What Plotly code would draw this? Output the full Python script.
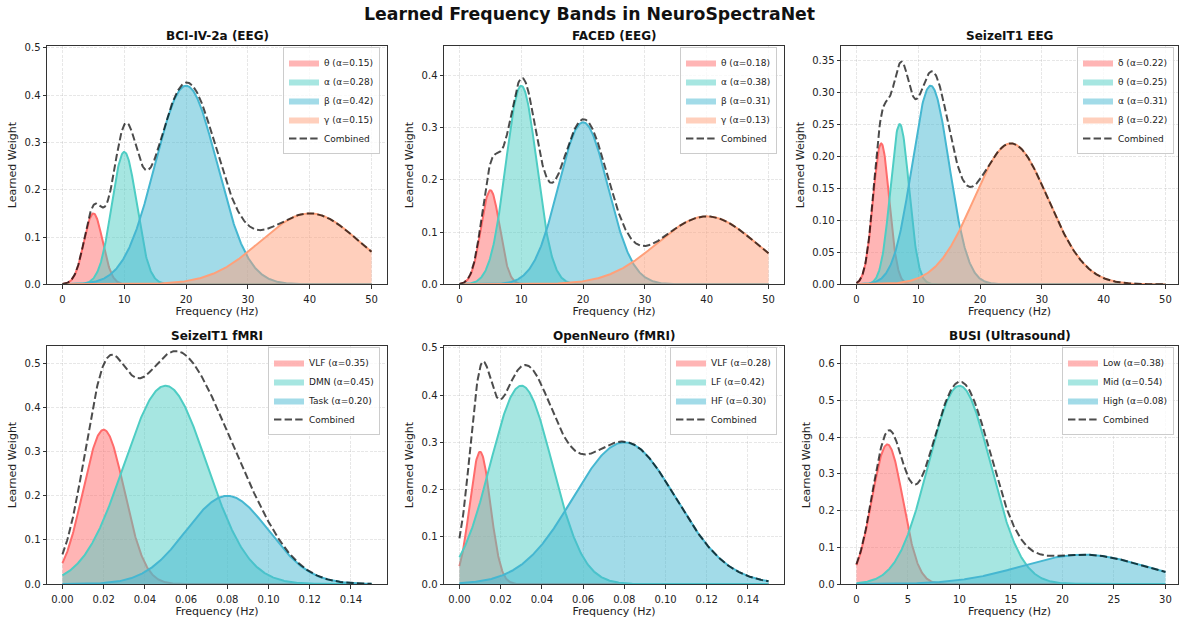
import numpy as np
import plotly.graph_objects as go

# ---------------- data ----------------
main_title = "Learned Frequency Bands in NeuroSpectraNet"
panel_titles = ["BCI-IV-2a (EEG)", "FACED (EEG)", "SeizeIT1 EEG",
                "SeizeIT1 fMRI", "OpenNeuro (fMRI)", "BUSI (Ultrasound)"]
freq_max = [50, 50, 50, 0.15, 0.15, 30]
band_names = [["θ", "α", "β", "γ"],
              ["θ", "α", "β", "γ"],
              ["δ", "θ", "α", "β"],
              ["VLF", "DMN", "Task"],
              ["VLF", "LF", "HF"],
              ["Low", "Mid", "High"]]
band_centers = [[5, 10, 20, 40],
                [5, 10, 20, 40],
                [4, 7, 12, 25],
                [0.02, 0.05, 0.08],
                [0.01, 0.03, 0.08],
                [3, 10, 22]]
band_widths = [[1.5, 2.0, 5.0, 8.0],
               [1.5, 2.5, 4.0, 8.0],
               [1.3, 1.5, 3.0, 6.0],
               [0.01, 0.02, 0.02],
               [0.005, 0.015, 0.025],
               [1.5, 3.0, 6.0]]
band_alphas = [[0.15, 0.28, 0.42, 0.15],
               [0.18, 0.38, 0.31, 0.13],
               [0.22, 0.25, 0.31, 0.22],
               [0.35, 0.45, 0.20],
               [0.28, 0.42, 0.30],
               [0.38, 0.54, 0.08]]
x_tick_step = [10, 10, 10, 0.02, 0.02, 5]
x_tick_fmt = ["d", "d", "d", ".2f", ".2f", "d"]
y_tick_step = [0.1, 0.1, 0.05, 0.1, 0.1, 0.1]
y_tick_fmt = [".1f", ".1f", ".2f", ".1f", ".1f", ".1f"]
band_colors = ["#FF6B6B", "#4ECDC4", "#45B7D1", "#FFA07A"]
x_label = "Frequency (Hz)"
y_label = "Learned Weight"
combined_label = "Combined"

# ---------------- layout geometry (pixels) ----------------
W, H = 1179, 621
cols = [(47, 387), (444, 784), (841, 1178)]
rows = [(46, 284.3), (346, 584)]
FONT = "DejaVu Sans"


def rgba(hexc, a):
    h = hexc.lstrip("#")
    return "rgba(%d,%d,%d,%.3f)" % (int(h[0:2], 16), int(h[2:4], 16), int(h[4:6], 16), a)


fig = go.Figure()
layout = dict(
    width=W, height=H, margin=dict(l=0, r=0, t=0, b=0, autoexpand=False),
    paper_bgcolor="white", plot_bgcolor="white",
    font=dict(family=FONT, size=10, color="#222"),
    annotations=[], showlegend=True,
)

for i in range(6):
    r, c = divmod(i, 3)
    ax = "" if i == 0 else str(i + 1)
    xref, yref = "x" + ax, "y" + ax
    xm = freq_max[i]
    x = np.linspace(0, xm, 600)
    combined = np.zeros_like(x)
    for j, name in enumerate(band_names[i]):
        mu, sd, a = band_centers[i][j], band_widths[i][j], band_alphas[i][j]
        y = a * np.exp(-((x - mu) ** 2) / (2 * sd ** 2))
        combined += y
        col = band_colors[j]
        fig.add_trace(go.Scatter(
            x=x, y=y, mode="lines", fill="tozeroy",
            fillcolor=rgba(col, 0.5), line=dict(width=0, color=rgba(col, 0.5)),
            name=f"{name} (α={a:.2f})", xaxis=xref, yaxis=yref,
            legend="legend" + ax, hoverinfo="skip"))
        fig.add_trace(go.Scatter(
            x=x, y=y, mode="lines", line=dict(width=2, color=col),
            showlegend=False, xaxis=xref, yaxis=yref, hoverinfo="skip"))
    fig.add_trace(go.Scatter(
        x=x, y=combined, mode="lines",
        line=dict(width=2, color="rgba(0,0,0,0.7)", dash="7.4px,3.2px"),
        name=combined_label, xaxis=xref, yaxis=yref,
        legend="legend" + ax, hoverinfo="skip"))

    x0p, x1p = cols[c]
    y0p, y1p = rows[r]
    if c == 2:
        xr = [-0.05 * xm, 1.0405 * xm]
    else:
        xr = [-0.05 * xm, 1.05 * xm]
    ymax = 1.2 * max(band_alphas[i])
    axis_common = dict(
        showline=True, mirror=True, linecolor="#333", linewidth=1,
        ticks="outside", ticklen=3.5, tickwidth=0.8, tickcolor="#333",
        showgrid=True, gridcolor="rgba(176,176,176,0.3)", gridwidth=0.8,
        griddash="3px,1.3px", zeroline=False, automargin=False,
        tickfont=dict(family=FONT, size=10, color="#222"),
    )
    layout["xaxis" + ax] = dict(
        axis_common, domain=[x0p / W, x1p / W], range=xr, anchor=yref,
        tick0=0, dtick=x_tick_step[i], tickformat=x_tick_fmt[i],
        ticklabelstandoff=2,
        title=dict(text=x_label, font=dict(family=FONT, size=11, color="#222"), standoff=3),
    )
    layout["yaxis" + ax] = dict(
        axis_common, domain=[1 - y1p / H, 1 - y0p / H], range=[0, ymax], anchor=xref,
        tick0=0, dtick=y_tick_step[i], tickformat=y_tick_fmt[i],
        title=dict(text=y_label, font=dict(family=FONT, size=11, color="#222"), standoff=5),
    )
    layout["legend" + ax] = dict(
        x=(x1p - 7) / W if c < 2 else (x1p - 4) / W, y=1 - (y0p + 1) / H,
        xanchor="right", yanchor="top", xref="paper", yref="paper",
        bgcolor="rgba(255,255,255,0.8)", bordercolor="#cccccc", borderwidth=1,
        font=dict(family=FONT, size=9, color="#222"), itemwidth=30,
        traceorder="normal",
    )
    layout["annotations"].append(dict(
        text="<b>%s</b>" % panel_titles[i], x=(x0p + x1p) / 2 / W, y=1 - (y0p - 10) / H,
        xref="paper", yref="paper", xanchor="center", yanchor="middle",
        showarrow=False, font=dict(family=FONT, size=12, color="#111")))

layout["annotations"].append(dict(
    text="<b>%s</b>" % main_title, x=0.5, y=1 - 14 / H, xref="paper", yref="paper",
    xanchor="center", yanchor="middle", showarrow=False,
    font=dict(family=FONT, size=17.3, color="#111")))

fig.update_layout(**layout)
fig.write_html(
    "out.html",
    config={"displayModeBar": False},
    post_script="document.body.style.margin='0';document.body.style.overflow='hidden';",
)
